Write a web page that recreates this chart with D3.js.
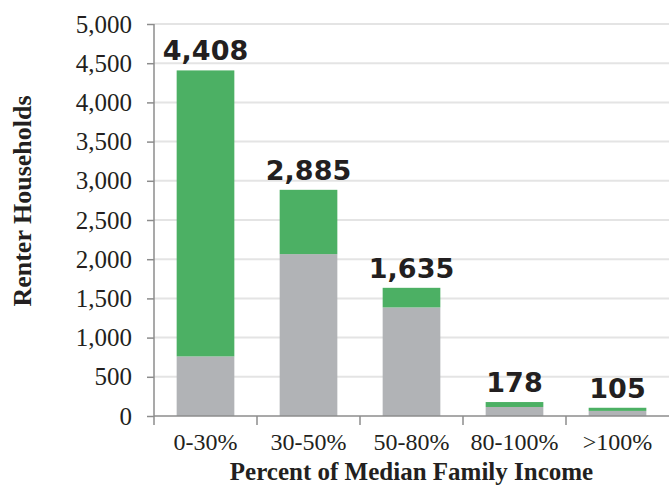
<!DOCTYPE html>
<html>
<head>
<meta charset="utf-8">
<script src="https://cdn.jsdelivr.net/npm/d3@7"></script>
<style>
  html, body { margin: 0; padding: 0; background: #fff; }
  .serif { font-family: "Liberation Serif", "DejaVu Serif", serif; }
</style>
</head>
<body>
<script>
const categories = ["0-30%", "30-50%", "50-80%", "80-100%", ">100%"]
const totals = [4408, 2885, 1635, 178, 105]
const grayValues = [760, 2065, 1385, 115, 65]
const yTicks = [0, 500, 1000, 1500, 2000, 2500, 3000, 3500, 4000, 4500, 5000]

const width = 669
const height = 486
const margin = {top: 24, right: 0, bottom: 70, left: 154}

const rows = categories.map((c, i) => ({
  cat: c,
  total: totals[i],
  gray: grayValues[i]
}))

const x = d3.scaleBand().domain(categories).range([margin.left, width]).paddingInner(0.44).paddingOuter(0.22)
const y = d3.scaleLinear().domain([0, 5000]).range([height - margin.bottom, margin.top])

const svg = d3.select("body").append("svg").attr("width", width).attr("height", height)

// gridlines
svg.append("g")
  .selectAll("line")
  .data(yTicks.slice(1))
  .join("line")
  .attr("x1", margin.left)
  .attr("x2", width)
  .attr("y1", (d) => y(d))
  .attr("y2", (d) => y(d))
  .attr("stroke", "#e4e4e4")
  .attr("stroke-width", 2)

// bars: gray bottom, green top
const bar = svg.append("g").selectAll("g").data(rows).join("g")

bar.append("rect")
  .attr("x", (d) => x(d.cat))
  .attr("width", x.bandwidth())
  .attr("y", (d) => y(d.gray))
  .attr("height", (d) => y(0) - y(d.gray))
  .attr("fill", "#b1b3b6")

bar.append("rect")
  .attr("x", (d) => x(d.cat))
  .attr("width", x.bandwidth())
  .attr("y", (d) => y(d.total))
  .attr("height", (d) => y(d.gray) - y(d.total))
  .attr("fill", "#4cb064")

bar.append("text")
  .attr("x", (d) => x(d.cat) + x.bandwidth() / 2)
  .attr("y", (d) => y(d.total) - 10)
  .attr("text-anchor", "middle")
  .style("font-family", "'DejaVu Sans', sans-serif")
  .style("font-weight", "bold")
  .style("font-size", "27px")
  .attr("fill", "#231f20")
  .text((d) => d3.format(",")(d.total))

// y axis
const yAxis = svg.append("g")
  .attr("transform", `translate(${margin.left},0)`)
  .call(d3.axisLeft(y).tickValues(yTicks).tickFormat(d3.format(",")).tickSize(7).tickPadding(15))

yAxis.attr("font-family", null).attr("font-size", null)
yAxis.select(".domain").remove()
yAxis.selectAll(".tick line").attr("stroke", "#8c8c8c").attr("stroke-width", 1.5)
yAxis.selectAll(".tick text")
  .attr("class", "serif")
  .style("font-size", "25px")
  .attr("fill", "#231f20")

svg.append("line")
  .attr("x1", margin.left).attr("x2", margin.left)
  .attr("y1", y(5000)).attr("y2", y(0) + 9)
  .attr("stroke", "#8c8c8c").attr("stroke-width", 1.5)

// x axis
svg.append("line")
  .attr("x1", margin.left).attr("x2", width)
  .attr("y1", y(0)).attr("y2", y(0))
  .attr("stroke", "#8c8c8c").attr("stroke-width", 1.5)

const step = x.step()
svg.append("g")
  .selectAll("line")
  .data(categories.slice(1))
  .join("line")
  .attr("x1", (d) => x(d) - step * 0.22)
  .attr("x2", (d) => x(d) - step * 0.22)
  .attr("y1", y(0))
  .attr("y2", y(0) + 9)
  .attr("stroke", "#8c8c8c")
  .attr("stroke-width", 1.5)

svg.append("g")
  .selectAll("text")
  .data(categories)
  .join("text")
  .attr("class", "serif")
  .attr("x", (d) => x(d) + x.bandwidth() / 2)
  .attr("y", y(0) + 34)
  .attr("text-anchor", "middle")
  .style("font-size", "24px")
  .attr("fill", "#231f20")
  .text((d) => d)

// axis titles
svg.append("text")
  .attr("class", "serif")
  .attr("x", (margin.left + width) / 2)
  .attr("y", 480)
  .attr("text-anchor", "middle")
  .style("font-weight", "bold")
  .style("font-size", "25px")
  .attr("fill", "#231f20")
  .text("Percent of Median Family Income")

svg.append("text")
  .attr("class", "serif")
  .attr("transform", "translate(31,201) rotate(-90)")
  .attr("text-anchor", "middle")
  .style("font-weight", "bold")
  .style("font-size", "26px")
  .attr("fill", "#231f20")
  .text("Renter Households")
</script>
</body>
</html>
